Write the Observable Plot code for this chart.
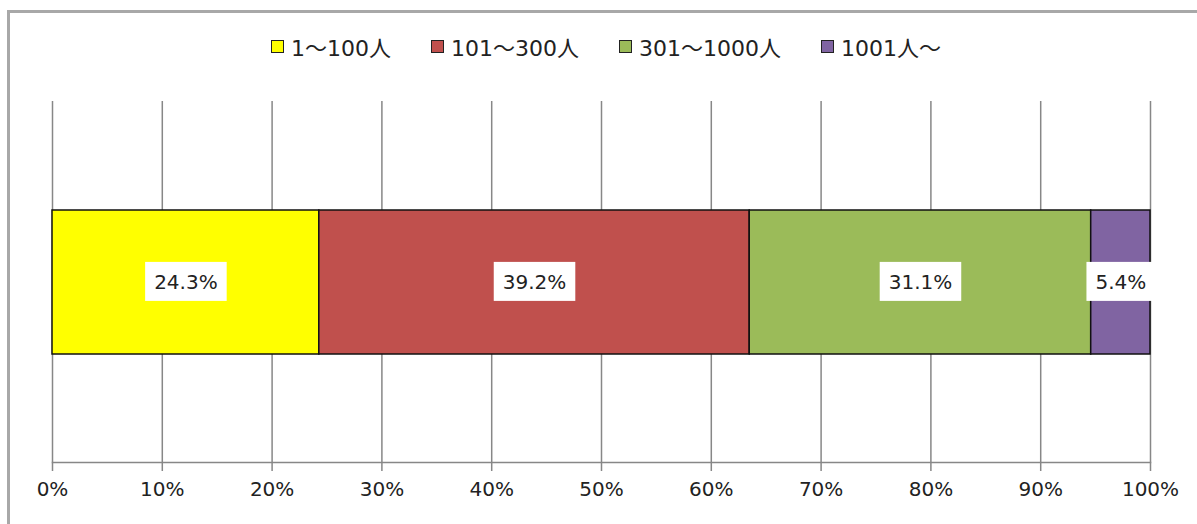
<!DOCTYPE html>
<html>
<head>
<meta charset="utf-8">
<script src="https://cdn.jsdelivr.net/npm/d3@7"></script>
<script src="https://cdn.jsdelivr.net/npm/@observablehq/plot@0.6"></script>
<style>
  html, body { margin: 0; padding: 0; background: #fff; }
  body { width: 1197px; height: 524px; overflow: hidden; position: relative; font-family: "DejaVu Sans", sans-serif; }
  #frame { position: absolute; left: 7px; top: 10px; width: 1300px; height: 600px;
           border-left: 3px solid #a8a8a8; border-top: 3px solid #a8a8a8; box-sizing: border-box; }
  #legend { position: absolute; left: 271px; top: 31px; height: 30px; display: flex; align-items: center;
            font-family: "DejaVu Sans", "Noto Sans CJK JP", sans-serif; font-size: 22px; color: #222; white-space: nowrap; }
  #legend .item { display: flex; align-items: center; margin-right: 40px; }
  #legend .sw { width: 11px; height: 11px; border: 1px solid #222; margin-right: 7px; }
  #chart { position: absolute; left: 0; top: 0; }
</style>
</head>
<body>
<div id="frame"></div>
<div id="legend"></div>
<div id="chart"></div>
<script>
// Company size groups and their shares (%)
const categories = ["1～100人", "101～300人", "301～1000人", "1001人～"];
const shares = [24.3, 39.2, 31.1, 5.4];
const colors = ["#ffff00", "#c0504d", "#9bbb59", "#8064a2"];
const tickValues = [0, 10, 20, 30, 40, 50, 60, 70, 80, 90, 100];
const rowName = ["全体"];

const data = categories.map((c, i) => ({group: c, share: shares[i], row: rowName[0]}));

// Legend
const legend = d3.select("#legend");
categories.forEach((c, i) => {
  const item = legend.append("div").attr("class", "item");
  item.append("div").attr("class", "sw").style("background", colors[i]);
  item.append("span").text(c);
});

const gridColor = "#878787";

const plot = Plot.plot({
  width: 1197,
  height: 524,
  marginLeft: 52,
  marginRight: 47,
  marginTop: 101,
  marginBottom: 62,
  style: {background: "transparent", fontFamily: "DejaVu Sans, sans-serif", fontSize: "20px", color: "#222"},
  x: {domain: [0, 100], ticks: tickValues, tickFormat: d => d + "%", label: null},
  y: {domain: rowName, padding: 0.43, axis: null, label: null},
  color: {domain: categories, range: colors},
  marks: [
    Plot.gridX(tickValues, {stroke: gridColor, strokeOpacity: 1, strokeWidth: 1.5}),
    Plot.axisX(tickValues, {tickSize: 9, tickPadding: 10, stroke: gridColor, strokeWidth: 1.5,
      tickFormat: d => d + "%", fill: "#222", label: null}),
    Plot.frame({anchor: "bottom", stroke: gridColor, strokeWidth: 1.5}),
    Plot.barX(data, Plot.stackX({x: "share", y: "row", fill: "group", stroke: "#111", strokeWidth: 1.5, order: null})),
    Plot.text(data, Plot.stackX({x: "share", y: "row", text: d => d.share.toFixed(1) + "%", order: null,
      fill: "#222", fontSize: 20, fontFamily: "DejaVu Sans, sans-serif"}))
  ]
});

document.getElementById("chart").appendChild(plot);

// White boxes behind the value labels
const labelSet = new Set(shares.map(v => v.toFixed(1) + "%"));
d3.select(plot).selectAll("text").each(function() {
  if (!labelSet.has(this.textContent)) return;
  const b = this.getBBox();
  d3.select(this.parentNode).insert("rect", () => this)
    .attr("x", b.x - 9).attr("y", b.y - 8)
    .attr("width", b.width + 18).attr("height", b.height + 15)
    .attr("fill", "#fff")
    .attr("transform", this.getAttribute("transform"));
});
</script>
</body>
</html>
